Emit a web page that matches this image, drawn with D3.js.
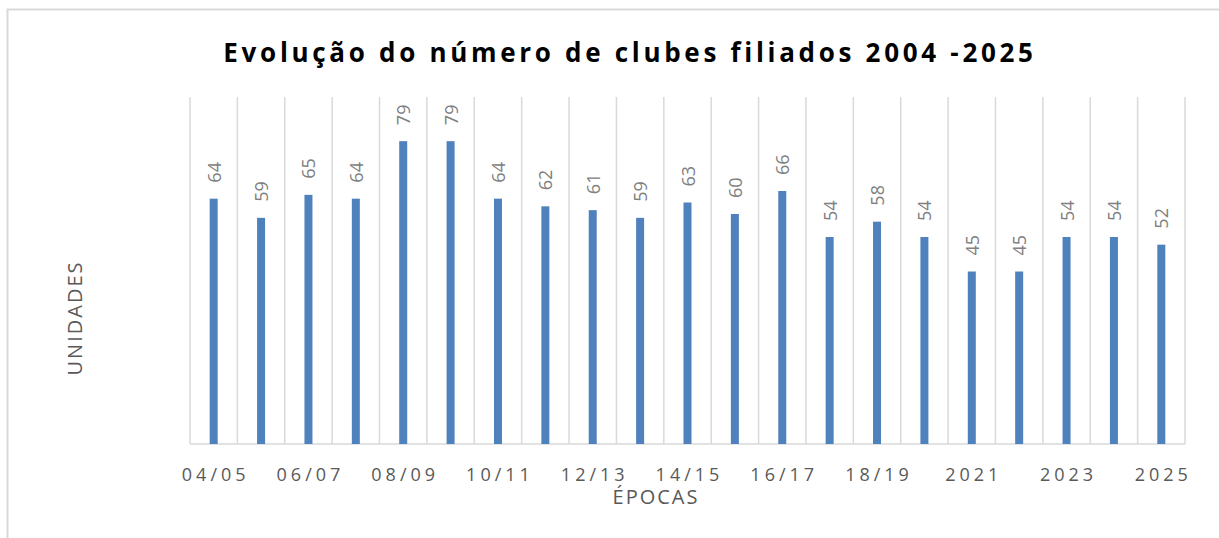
<!DOCTYPE html>
<html>
<head>
<meta charset="utf-8">
<script src="https://cdn.jsdelivr.net/npm/d3@7"></script>
<style>
	body { margin: 0; background: #fff; }
	text { font-family: "Open Sans", "Liberation Sans", sans-serif; }
</style>
</head>
<body>
<div id="chart"></div>
<script>

var epocas = ["04/05", "05/06", "06/07", "07/08", "08/09", "09/10", "10/11", "11/12", "12/13", "13/14",
	"14/15", "15/16", "16/17", "17/18", "18/19", "19/20", "2021", "2022", "2023", "2024", "2025"];
var clubes = [64, 59, 65, 64, 79, 79, 64, 62, 61, 59, 63, 60, 66, 54, 58, 54, 45, 45, 54, 54, 52];
var rotulosX = ["04/05", "06/07", "08/09", "10/11", "12/13", "14/15", "16/17", "18/19", "2021", "2023", "2025"];

var W = 1219, H = 538;
var plotLeft = 190, plotRight = 1185, plotTop = 97, plotBottom = 444;

var svg = d3.select("#chart").append("svg").attr("width", W).attr("height", H);

// chart frame
svg.append("rect")
	.attr("x", 7.5).attr("y", 9.5)
	.attr("width", 1240).attr("height", 560)
	.attr("fill", "none").attr("stroke", "#d9d9d9").attr("stroke-width", 2);

var x = d3.scaleBand().domain(epocas).range([plotLeft, plotRight]).padding(0);
var y = d3.scaleLinear().domain([0, 90]).range([plotBottom, plotTop + 2]);

// vertical gridlines at category edges
var edges = epocas.map(function(d) { return x(d); }).concat([plotRight]);
svg.append("g").selectAll("line")
	.data(edges)
	.enter().append("line")
	.attr("x1", function(d) { return d; }).attr("x2", function(d) { return d; })
	.attr("y1", plotTop).attr("y2", plotBottom)
	.attr("stroke", "#d9d9d9").attr("stroke-width", 1.5);

// baseline
svg.append("line")
	.attr("x1", plotLeft).attr("x2", plotRight)
	.attr("y1", plotBottom).attr("y2", plotBottom)
	.attr("stroke", "#d9d9d9").attr("stroke-width", 1.5);

var barW = 8;
svg.append("g").selectAll("rect")
	.data(clubes)
	.enter().append("rect")
	.attr("x", function(d, i) { return x(epocas[i]) + x.bandwidth() / 2 - barW / 2; })
	.attr("y", function(d) { return y(d); })
	.attr("width", barW)
	.attr("height", function(d) { return plotBottom - y(d); })
	.attr("fill", "#4f81bd");

// value labels, rotated
svg.append("g").selectAll("text")
	.data(clubes)
	.enter().append("text")
	.attr("transform", function(d, i) {
		var cx = x(epocas[i]) + x.bandwidth() / 2;
		return "translate(" + (cx + 7) + "," + (y(d) - 16) + ") rotate(-90)";
	})
	.attr("font-size", 18)
	.attr("fill", "#808080")
	.text(function(d) { return d; });

// x tick labels (every other)
var xAxis = d3.axisBottom(x).tickValues(rotulosX).tickSize(0).tickPadding(0);
var gx = svg.append("g").attr("transform", "translate(0," + plotBottom + ")").call(xAxis);
gx.select(".domain").remove();
gx.selectAll("text")
	.attr("dy", null)
	.attr("y", 37)
	.attr("dx", 2)
	.attr("font-size", 18)
	.attr("font-family", "'Open Sans', 'Liberation Sans', sans-serif")
	.attr("letter-spacing", "4px")
	.attr("fill", "#595959");

// axis titles
svg.append("text")
	.attr("x", 656).attr("y", 504)
	.attr("text-anchor", "middle")
	.attr("font-size", 20)
	.attr("letter-spacing", "2px")
	.attr("fill", "#595959")
	.text("ÉPOCAS");

svg.append("text")
	.attr("transform", "translate(82,318) rotate(-90)")
	.attr("text-anchor", "middle")
	.attr("font-size", 20)
	.attr("letter-spacing", "2px")
	.attr("fill", "#595959")
	.text("UNIDADES");

// title
svg.append("text")
	.attr("x", 630).attr("y", 62)
	.attr("text-anchor", "middle")
	.attr("font-size", 26)
	.attr("font-weight", "bold")
	.attr("letter-spacing", "3.7px")
	.attr("fill", "#000")
	.text("Evolução do número de clubes filiados 2004 -2025");

</script>
</body>
</html>
